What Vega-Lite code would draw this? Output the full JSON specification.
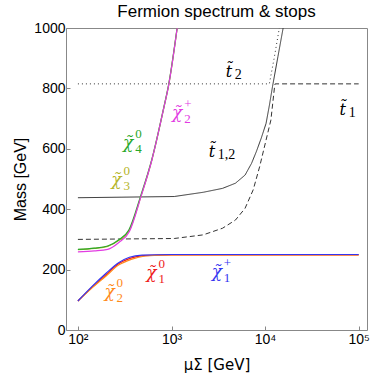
{
  "$schema": "https://vega.github.io/schema/vega-lite/v6.json",
  "width": 301,
  "height": 302,
  "autosize": "none",
  "padding": {"left": 66, "top": 28, "right": 7, "bottom": 50},
  "background": "white",
  "config": {"view": {"stroke": "#888888", "strokeWidth": 1}, "font": "Liberation Sans"},
  "title": {"text": "Fermion spectrum & stops", "fontSize": 17, "fontWeight": "normal", "font": "Liberation Sans", "color": "#000000", "offset": 0},
  "datasets": {
    "curves": [
      {"s": "chi30", "x": 100, "y": 266}, {"s": "chi30", "x": 150, "y": 270}, {"s": "chi30", "x": 208, "y": 277}, {"s": "chi30", "x": 272, "y": 296}, {"s": "chi30", "x": 355, "y": 330}, {"s": "chi30", "x": 470, "y": 441}, {"s": "chi30", "x": 617, "y": 563}, {"s": "chi30", "x": 832, "y": 739}, {"s": "chi30", "x": 933, "y": 811}, {"s": "chi30", "x": 1150, "y": 1000},
      {"s": "chi40", "x": 100, "y": 267}, {"s": "chi40", "x": 150, "y": 271}, {"s": "chi40", "x": 208, "y": 278}, {"s": "chi40", "x": 272, "y": 298}, {"s": "chi40", "x": 350, "y": 331}, {"s": "chi40", "x": 465, "y": 441}, {"s": "chi40", "x": 614, "y": 563}, {"s": "chi40", "x": 830, "y": 739}, {"s": "chi40", "x": 930, "y": 811}, {"s": "chi40", "x": 1148, "y": 1000},
      {"s": "chi2p", "x": 100, "y": 259}, {"s": "chi2p", "x": 150, "y": 262}, {"s": "chi2p", "x": 208, "y": 267}, {"s": "chi2p", "x": 272, "y": 289}, {"s": "chi2p", "x": 355, "y": 326}, {"s": "chi2p", "x": 471, "y": 441}, {"s": "chi2p", "x": 617, "y": 563}, {"s": "chi2p", "x": 832, "y": 739}, {"s": "chi2p", "x": 933, "y": 811}, {"s": "chi2p", "x": 1150, "y": 1000},
      {"s": "chi10", "x": 100, "y": 96}, {"s": "chi10", "x": 140, "y": 140}, {"s": "chi10", "x": 200, "y": 183}, {"s": "chi10", "x": 272, "y": 219}, {"s": "chi10", "x": 360, "y": 237}, {"s": "chi10", "x": 500, "y": 246}, {"s": "chi10", "x": 1000, "y": 249}, {"s": "chi10", "x": 100000, "y": 249},
      {"s": "chi20", "x": 100, "y": 96}, {"s": "chi20", "x": 140, "y": 138}, {"s": "chi20", "x": 200, "y": 179}, {"s": "chi20", "x": 272, "y": 215}, {"s": "chi20", "x": 371, "y": 234}, {"s": "chi20", "x": 528, "y": 245}, {"s": "chi20", "x": 1000, "y": 249}, {"s": "chi20", "x": 100000, "y": 249},
      {"s": "chi1p", "x": 100, "y": 96}, {"s": "chi1p", "x": 140, "y": 143}, {"s": "chi1p", "x": 200, "y": 188}, {"s": "chi1p", "x": 272, "y": 223}, {"s": "chi1p", "x": 355, "y": 241}, {"s": "chi1p", "x": 484, "y": 248}, {"s": "chi1p", "x": 1000, "y": 250}, {"s": "chi1p", "x": 100000, "y": 250},
      {"s": "t12", "x": 100, "y": 438}, {"s": "t12", "x": 1070, "y": 442}, {"s": "t12", "x": 2180, "y": 456}, {"s": "t12", "x": 3510, "y": 469}, {"s": "t12", "x": 4820, "y": 486}, {"s": "t12", "x": 6110, "y": 513}, {"s": "t12", "x": 7170, "y": 552}, {"s": "t12", "x": 8070, "y": 591}, {"s": "t12", "x": 9090, "y": 635}, {"s": "t12", "x": 10240, "y": 684}, {"s": "t12", "x": 11130, "y": 745}, {"s": "t12", "x": 12000, "y": 806}, {"s": "t12", "x": 13710, "y": 905}, {"s": "t12", "x": 15590, "y": 1000},
      {"s": "t1", "x": 100, "y": 300}, {"s": "t1", "x": 1070, "y": 303}, {"s": "t1", "x": 2180, "y": 315}, {"s": "t1", "x": 3510, "y": 337}, {"s": "t1", "x": 4820, "y": 364}, {"s": "t1", "x": 6110, "y": 403}, {"s": "t1", "x": 7460, "y": 464}, {"s": "t1", "x": 8750, "y": 541}, {"s": "t1", "x": 10240, "y": 629}, {"s": "t1", "x": 11530, "y": 695}, {"s": "t1", "x": 12680, "y": 811}, {"s": "t1", "x": 12800, "y": 815}, {"s": "t1", "x": 100000, "y": 815},
      {"s": "t2", "x": 100, "y": 815}, {"s": "t2", "x": 11100, "y": 815}, {"s": "t2", "x": 12500, "y": 900}, {"s": "t2", "x": 14200, "y": 1000}
    ],
    "labels": [
      {"main": "χ̃", "sup": "+", "sub": "2", "x": 1150, "y": 718, "c": "chi2p"},
      {"main": "χ̃", "sup": "0", "sub": "4", "x": 345, "y": 619, "c": "chi40"},
      {"main": "χ̃", "sup": "0", "sub": "3", "x": 258, "y": 497, "c": "chi30"},
      {"main": "χ̃", "sup": "0", "sub": "1", "x": 610, "y": 189, "c": "chi10"},
      {"main": "χ̃", "sup": "0", "sub": "2", "x": 218, "y": 126, "c": "chi20"},
      {"main": "χ̃", "sup": "+", "sub": "1", "x": 3050, "y": 192, "c": "chi1p"}
    ],
    "tlabels": [
      {"main": "t̃", "sub": "2", "x": 4100, "y": 854},
      {"main": "t̃", "sub": "1", "x": 67600, "y": 728},
      {"main": "t̃", "sub": "1,2", "x": 2700, "y": 589}
    ]
  },
  "layer": [
    {
      "data": {"name": "curves"},
      "transform": [{"filter": "datum.s=='t1' || datum.s=='t2' || datum.s=='t12'"}],
      "mark": {"type": "line", "strokeWidth": 1, "clip": true},
      "encoding": {
        "x": {"field": "x", "type": "quantitative", "scale": {"type": "log", "domain": [74.6, 122700], "nice": false},
              "axis": {"values": [100, 1000, 10000, 100000], "labelExpr": "'10' + (datum.value==100?'²':datum.value==1000?'³':datum.value==10000?'⁴':'⁵')", "title": "μΣ [GeV]", "titleFontSize": 15, "titleFontWeight": "normal", "titleColor": "#000", "labelFontSize": 14, "labelColor": "#000", "labelFont": "Liberation Sans", "titleFont": "DejaVu Sans", "domain": false, "grid": false, "tickColor": "#888", "tickSize": -4, "labelPadding": 6, "titlePadding": 11, "labelFlush": false}},
        "y": {"field": "y", "type": "quantitative", "scale": {"domain": [0, 1000], "nice": false},
              "axis": {"values": [0, 100, 200, 300, 400, 500, 600, 700, 800, 900, 1000], "labelExpr": "datum.value % 200 == 0 ? datum.label : ''", "format": "d", "title": "Mass [GeV]", "titleFontSize": 16, "titleFontWeight": "normal", "titleColor": "#000", "labelFontSize": 14, "labelColor": "#000", "domain": false, "grid": false, "tickColor": "#888", "tickSize": -4, "labelPadding": 5, "titlePadding": 5, "labelFlush": false}},
        "detail": {"field": "s"},
        "strokeDash": {"field": "s", "type": "nominal", "scale": {"domain": ["t12", "t1", "t2"], "range": [[1, 0], [5, 3], [1, 3]]}, "legend": null},
        "color": {"value": "#333333"}
      }
    },
    {
      "data": {"name": "curves"},
      "transform": [{"filter": "datum.s!='t1' && datum.s!='t2' && datum.s!='t12'"}],
      "mark": {"type": "line", "strokeWidth": 1.2, "clip": true, "interpolate": "monotone"},
      "encoding": {
        "x": {"field": "x", "type": "quantitative"},
        "y": {"field": "y", "type": "quantitative"},
        "color": {"field": "s", "type": "nominal", "sort": ["chi30", "chi40", "chi2p", "chi10", "chi20", "chi1p"],
                  "scale": {"domain": ["chi30", "chi40", "chi2p", "chi10", "chi20", "chi1p"], "range": ["#b5b52a", "#2aa82a", "#e23ce2", "#ee1a1a", "#ff8a1a", "#3535f0"]}, "legend": null}
      }
    },
    {
      "data": {"name": "labels"},
      "mark": {"type": "text", "font": "DejaVu Serif", "fontStyle": "italic", "fontSize": 17, "align": "center", "baseline": "middle"},
      "encoding": {
        "x": {"field": "x", "type": "quantitative"},
        "y": {"field": "y", "type": "quantitative"},
        "text": {"field": "main"},
        "color": {"field": "c", "type": "nominal", "legend": null}
      }
    },
    {
      "data": {"name": "labels"},
      "mark": {"type": "text", "font": "Liberation Serif", "fontSize": 13, "align": "left", "baseline": "middle", "dx": 7, "dy": -9},
      "encoding": {
        "x": {"field": "x", "type": "quantitative"},
        "y": {"field": "y", "type": "quantitative"},
        "text": {"field": "sup"},
        "color": {"field": "c", "type": "nominal", "legend": null}
      }
    },
    {
      "data": {"name": "labels"},
      "mark": {"type": "text", "font": "Liberation Serif", "fontSize": 13, "align": "left", "baseline": "middle", "dx": 7, "dy": 6},
      "encoding": {
        "x": {"field": "x", "type": "quantitative"},
        "y": {"field": "y", "type": "quantitative"},
        "text": {"field": "sub"},
        "color": {"field": "c", "type": "nominal", "legend": null}
      }
    },
    {
      "data": {"name": "tlabels"},
      "mark": {"type": "text", "font": "DejaVu Serif", "fontStyle": "italic", "fontSize": 16, "align": "center", "baseline": "middle", "color": "#000"},
      "encoding": {
        "x": {"field": "x", "type": "quantitative"},
        "y": {"field": "y", "type": "quantitative"},
        "text": {"field": "main"}
      }
    },
    {
      "data": {"name": "tlabels"},
      "mark": {"type": "text", "font": "Liberation Serif", "fontSize": 14, "align": "left", "baseline": "middle", "dx": 6, "dy": 3, "color": "#000"},
      "encoding": {
        "x": {"field": "x", "type": "quantitative"},
        "y": {"field": "y", "type": "quantitative"},
        "text": {"field": "sub"}
      }
    }
  ]
}
